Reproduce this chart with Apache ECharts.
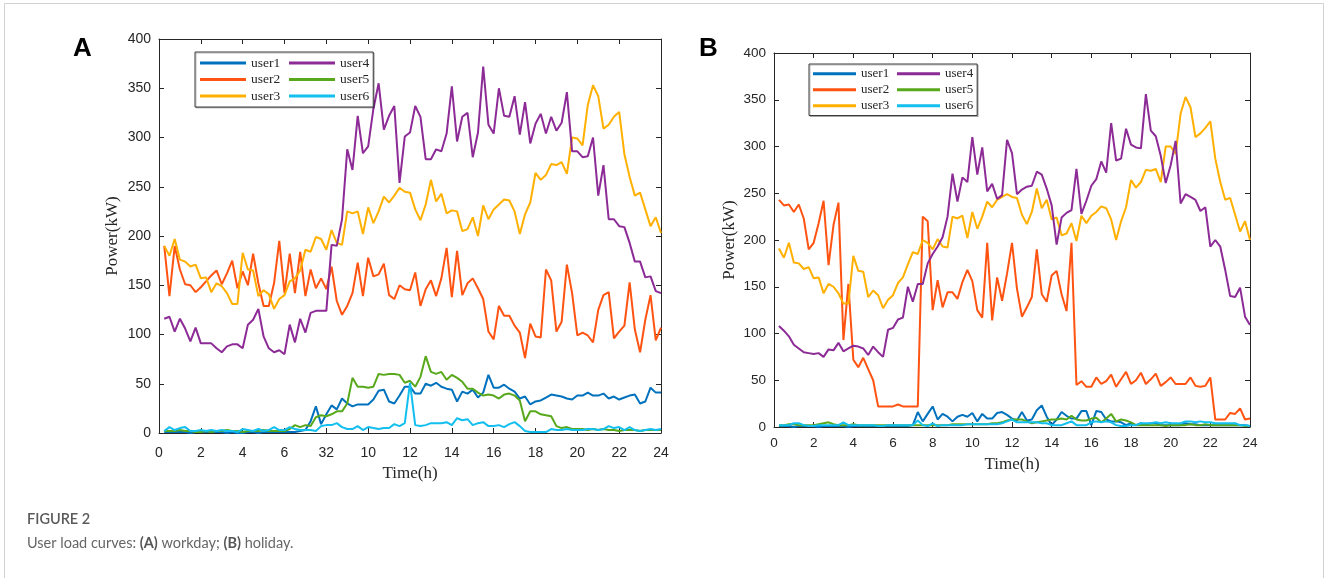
<!DOCTYPE html>
<html>
<head>
<meta charset="utf-8">
<title>User load curves</title>
<script src="https://cdn.jsdelivr.net/npm/echarts@6/dist/echarts.min.js"></script>
<style>
  html, body { margin: 0; padding: 0; background: #ffffff; }
  #chart { width: 1328px; height: 578px; }
</style>
</head>
<body>
<div id="chart"></div>
<script>
// Sampling instants, one every 15 minutes (h)
const hours = [0.25,0.5,0.75,1,1.25,1.5,1.75,2,2.25,2.5,2.75,3,3.25,3.5,3.75,4,4.25,4.5,4.75,5,5.25,5.5,5.75,6,
  6.25,6.5,6.75,7,7.25,7.5,7.75,8,8.25,8.5,8.75,9,9.25,9.5,9.75,10,10.25,10.5,10.75,11,11.25,11.5,11.75,12,
  12.25,12.5,12.75,13,13.25,13.5,13.75,14,14.25,14.5,14.75,15,15.25,15.5,15.75,16,16.25,16.5,16.75,17,17.25,17.5,17.75,18,
  18.25,18.5,18.75,19,19.25,19.5,19.75,20,20.25,20.5,20.75,21,21.25,21.5,21.75,22,22.25,22.5,22.75,23,23.25,23.5,23.75,24];

const userNames = ['user1', 'user2', 'user3', 'user4', 'user5', 'user6'];

// Tick labels of the time axes
const timeTicksWorkday = ['0','2','4','6','32','10','12','14','16','18','20','22','24'];
const timeTicksHoliday = ['0','2','4','6','8','10','12','14','16','18','20','22','24'];

// (A) workday load, kW
const workUser1 = [1,1,1,1,1,0,1,1,1,1,1,1,0,1,0,0,1,1,0,1,1,1,1,1,1,1,2,3,12,27,9,19,
  28,24,35,30,27,29,29,29,34,43,44,32,30,38,47,47,
  40,40,50,48,51,47,45,44,32,42,40,44,36,41,59,46,46,49,45,42,35,37,29,32,33,36,39,38,37,35,34,38,38,41,38,38,40,35,37,34,36,38,39,30,32,46,41,41];
const workUser2 = [190,139,190,166,151,150,143,148,154,160,165,151,162,175,147,164,150,182,152,129,129,152,195,142,182,142,184,139,166,147,157,146,
  169,134,120,129,142,173,139,178,159,161,172,140,136,150,146,145,
  163,129,146,155,139,157,188,138,185,140,152,157,147,136,103,95,129,119,119,109,102,76,111,98,97,166,155,103,113,171,142,99,102,99,92,125,140,143,96,103,109,153,105,82,115,140,94,107];
const workUser3 = [190,180,197,176,174,169,171,157,158,143,152,149,142,131,131,183,166,165,139,145,141,126,136,140,154,157,165,186,184,199,197,186,
  206,193,191,225,223,225,202,229,213,225,240,234,241,249,245,244,
  227,216,232,257,235,243,223,226,225,205,207,219,200,231,217,227,232,237,236,225,202,222,234,264,257,262,273,272,275,263,300,299,292,333,353,342,309,313,321,326,283,260,241,244,227,210,219,203];
const workUser4 = [116,118,103,116,106,93,107,91,91,91,86,82,88,90,90,86,110,115,126,98,86,82,84,80,110,92,116,102,122,124,124,124,
  191,190,217,288,267,322,284,291,329,355,308,322,332,254,301,305,
  332,321,278,278,288,286,304,352,296,321,325,280,305,372,313,304,350,322,321,342,303,336,294,314,324,304,321,307,315,346,286,286,280,281,300,241,272,217,217,210,209,193,174,174,158,159,144,142];
const workUser5 = [2,2,2,3,2,2,1,1,2,1,2,2,3,2,2,1,2,2,2,3,2,2,2,2,4,8,6,8,7,16,18,17,
  19,22,22,30,56,47,47,46,47,60,59,60,60,59,51,53,
  47,57,78,62,60,62,54,59,56,52,45,45,41,38,39,38,35,39,40,38,33,12,22,22,19,18,17,7,5,6,4,4,4,3,4,3,4,3,3,2,3,3,3,2,3,3,3,3];
const workUser6 = [2,6,3,5,6,2,2,3,2,3,2,3,2,2,1,4,3,2,4,2,3,6,3,3,6,4,3,3,3,2,7,8,
  8,10,6,4,4,7,3,6,5,4,5,5,9,7,10,51,
  8,7,8,10,10,10,11,8,15,13,14,8,10,11,7,7,8,6,9,11,7,2,1,1,1,1,4,3,3,4,3,3,3,4,4,3,4,7,5,6,3,6,3,2,3,4,3,4];

// (B) holiday load, kW
const holUser1 = [1,1,1,0,1,1,1,1,0,1,1,1,1,1,0,1,1,1,1,1,1,1,1,1,1,1,1,
  2,16,6,14,22,8,14,11,6,11,13,11,15,6,14,9,9,15,16,13,
  9,7,16,7,8,18,23,11,2,8,16,12,9,9,17,17,2,17,16,8,6,6,5,2,4,2,4,2,4,4,2,2,2,2,2,4,3,3,2,2,2,2,2,2,2,2,2,2,1];
const holUser2 = [243,237,238,230,238,223,190,197,218,242,173,216,240,93,153,72,64,74,62,50,22,22,22,22,24,22,22,22,22,225,220,125,157,128,144,144,137,155,168,156,125,117,197,114,160,135,164,
  197,148,118,128,139,190,142,134,162,167,142,124,197,45,49,43,43,53,46,49,56,43,51,59,46,50,58,46,51,57,44,48,53,46,46,46,53,44,43,44,53,8,8,8,15,14,20,8,9];
const holUser3 = [191,181,197,176,175,169,171,159,160,143,153,150,143,132,132,183,167,166,139,146,141,127,136,141,154,160,174,187,185,200,197,190,201,193,192,225,223,226,202,230,212,225,241,235,243,246,249,
  246,245,227,217,230,255,234,243,222,224,205,207,218,199,226,218,226,230,236,234,222,200,220,235,264,256,262,275,274,276,262,300,300,292,335,353,342,310,314,320,327,287,262,243,245,227,209,220,200];
const holUser4 = [108,103,97,88,84,80,79,78,79,75,83,82,90,81,84,87,86,84,77,86,80,75,104,106,115,117,150,134,153,153,175,185,193,203,225,271,241,267,262,310,270,299,252,260,244,248,307,
  293,249,254,257,258,273,270,255,237,195,224,229,232,276,228,242,258,265,284,272,325,285,287,319,302,299,298,356,317,311,290,261,280,306,239,249,246,243,231,235,193,200,193,168,140,139,149,118,109];
const holUser5 = [2,2,3,3,2,2,2,2,3,4,5,3,2,2,2,3,2,2,2,2,2,2,2,2,2,2,2,2,2,2,2,2,2,2,2,3,3,3,3,3,3,3,3,4,4,5,7,
  8,8,8,6,4,5,6,7,8,8,9,8,12,8,7,7,9,10,5,9,14,6,8,7,5,2,2,2,2,2,2,1,2,2,2,2,3,2,2,3,2,2,2,2,2,2,2,1,1];
const holUser6 = [2,2,2,4,4,2,1,1,2,2,2,2,2,5,2,2,2,2,2,2,1,1,2,2,2,2,2,2,7,2,1,4,1,2,2,2,2,2,3,3,3,3,3,3,3,4,6,
  8,5,5,5,5,5,4,4,2,2,2,4,6,2,2,2,5,6,5,6,5,2,1,1,2,2,4,4,4,5,4,5,4,4,4,6,6,5,6,5,5,4,4,4,4,4,2,2,1];

const workday = [workUser1, workUser2, workUser3, workUser4, workUser5, workUser6];
const holiday = [holUser1, holUser2, holUser3, holUser4, holUser5, holUser6];

// Line colours, one per user
const lineColors = ['#0072BD', '#FF5312', '#FFB000', '#8C2A96', '#58A81C', '#12BFEF'];

const ink = '#262626';
const tickFont = 'Liberation Sans, Arial, sans-serif';
const serifFont = 'Liberation Serif, Times New Roman, serif';

const panels = [
  { grid: { left: 159, top: 39, width: 502, height: 394 }, values: workday, ticks: timeTicksWorkday,
    xLabelMargin: 13, xNameGap: 32, yNameGap: 38, labelSize: 14 },
  { grid: { left: 774, top: 53, width: 476, height: 374 }, values: holiday, ticks: timeTicksHoliday,
    xLabelMargin: 9, xNameGap: 29, yNameGap: 36, labelSize: 13.5 }
];

const grids = [], xAxes = [], yAxes = [], series = [];

panels.forEach((p, gi) => {
  grids.push(Object.assign({ containLabel: false }, p.grid));
  const tickStyle = { show: true, inside: true, length: 5, lineStyle: { color: ink, width: 1 } };
  const lineStyle = { show: true, onZero: false, lineStyle: { color: ink, width: 1 } };
  // bottom time axis with labels, and a plain top edge with ticks
  xAxes.push({
    type: 'value', gridIndex: gi, min: 0, max: 24, interval: 2, position: 'bottom',
    axisLine: lineStyle, axisTick: tickStyle, splitLine: { show: false },
    axisLabel: {
      color: ink, fontFamily: tickFont, fontSize: p.labelSize, margin: p.xLabelMargin,
      formatter: (v) => p.ticks[Math.round(v / 2)]
    },
    name: 'Time(h)', nameLocation: 'middle', nameGap: p.xNameGap,
    nameTextStyle: { color: ink, fontFamily: serifFont, fontSize: 17 }
  });
  xAxes.push({
    type: 'value', gridIndex: gi, min: 0, max: 24, interval: 2, position: 'top',
    axisLine: lineStyle, axisTick: tickStyle, splitLine: { show: false }, axisLabel: { show: false }
  });
  yAxes.push({
    type: 'value', gridIndex: gi, min: 0, max: 400, interval: 50, position: 'left',
    axisLine: lineStyle, axisTick: tickStyle, splitLine: { show: false },
    axisLabel: { color: ink, fontFamily: tickFont, fontSize: p.labelSize, margin: 8 },
    name: 'Power(kW)', nameLocation: 'middle', nameGap: p.yNameGap,
    nameTextStyle: { color: ink, fontFamily: serifFont, fontSize: 17 }
  });
  yAxes.push({
    type: 'value', gridIndex: gi, min: 0, max: 400, interval: 50, position: 'right',
    axisLine: lineStyle, axisTick: tickStyle, splitLine: { show: false }, axisLabel: { show: false }
  });
  p.values.forEach((vals, si) => {
    series.push({
      type: 'line', name: userNames[si],
      xAxisIndex: gi * 2, yAxisIndex: gi * 2,
      data: hours.map((h, i) => [h, vals[i]]),
      showSymbol: false, symbol: 'none',
      lineStyle: { color: lineColors[si], width: 2 },
      itemStyle: { color: lineColors[si] },
      z: 2 + si
    });
  });
});

// Two-column legends framed by a box
function legendColumn(names, left, top, opts) {
  return Object.assign({
    data: names, orient: 'vertical', left: left, top: top,
    icon: 'rect', itemWidth: opts.iw, itemHeight: 3, itemGap: opts.gap,
    selectedMode: false,
    textStyle: { color: ink, fontFamily: serifFont, fontSize: opts.fs, lineHeight: opts.lh, padding: 0 },
    padding: 0, z: 20
  }, opts.extra || {});
}
const legends = [
  legendColumn(userNames.slice(0, 3), 195, 52, { iw: 46, gap: 2.5, fs: 13.5, lh: 14,
    extra: { padding: [4, 93, 4, 5], borderColor: '#3a3a3a', borderWidth: 1, backgroundColor: '#ffffff',
      shadowColor: 'rgba(0,0,0,0.25)', shadowOffsetX: 1, shadowOffsetY: 1, z: 19 } }),
  legendColumn(userNames.slice(3), 289, 56, { iw: 46, gap: 2.5, fs: 13.5, lh: 14 }),
  legendColumn(userNames.slice(0, 3), 809, 64, { iw: 43, gap: 2.5, fs: 13, lh: 13.5,
    extra: { padding: [3, 88, 3, 4], borderColor: '#3a3a3a', borderWidth: 1, backgroundColor: '#ffffff',
      shadowColor: 'rgba(0,0,0,0.25)', shadowOffsetX: 1, shadowOffsetY: 1, z: 19 } }),
  legendColumn(userNames.slice(3), 897, 67, { iw: 43, gap: 2.5, fs: 13, lh: 13.5 })
];

const chart = echarts.init(document.getElementById('chart'));
chart.setOption({
  animation: false,
  backgroundColor: '#ffffff',
  grid: grids,
  xAxis: xAxes,
  yAxis: yAxes,
  legend: legends,
  series: series,
  graphic: [
    { type: 'rect', shape: { x: 4.5, y: 3.5, width: 1319, height: 640 },
      style: { fill: 'none', stroke: '#d2d2d2', lineWidth: 1 }, silent: true, z: 0 },
    { type: 'text', left: 73, top: 36, z: 30,
      style: { text: 'A', font: 'bold 26px Liberation Sans, Arial, sans-serif', fill: '#000000' } },
    { type: 'text', left: 699, top: 36, z: 30,
      style: { text: 'B', font: 'bold 26px Liberation Sans, Arial, sans-serif', fill: '#000000' } },
    { type: 'text', left: 27, top: 512, z: 30,
      style: { text: 'FIGURE 2', font: '600 14.5px Lato, Open Sans, sans-serif', fill: '#5a5a5a' } },
    { type: 'text', left: 27, top: 536, z: 30,
      style: {
        text: 'User load curves: {b|(A)} workday; {b|(B)} holiday.',
        font: '14.5px Lato, Open Sans, sans-serif', fill: '#666666',
        rich: { b: { fontFamily: 'Lato, Open Sans, sans-serif', fontSize: 14.5, fontWeight: 'bold', fill: '#555555' } }
      } }
  ]
});
</script>
</body>
</html>
